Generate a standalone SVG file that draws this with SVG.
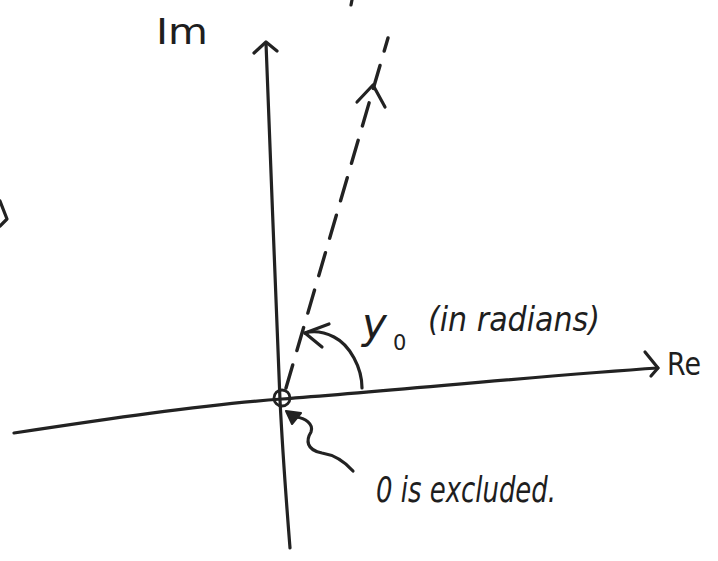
<svg xmlns="http://www.w3.org/2000/svg" width="718" height="561" viewBox="0 0 718 561">
<defs>
<style>
.ink{fill:none;stroke:#222;stroke-width:3.2;stroke-linecap:round;stroke-linejoin:round}
.dash{fill:none;stroke:#222;stroke-width:3.4;stroke-linecap:round;stroke-dasharray:24 15}
.hand{font-family:"DejaVu Sans","Liberation Sans",sans-serif;font-style:italic;fill:#1e1e1e}
.upright{font-style:normal}
</style>
</defs>
<rect width="718" height="561" fill="#fff"/>
<g id="connectors">
<g id="im-axis">
<path class="ink" d="M266,43 C270,150 276,300 280,400 C283,460 287,510 290,548"/>
<path class="ink" d="M254,53 L266,42 L277,51"/>
</g>
<g id="re-axis">
<path class="ink" d="M14,433 C100,420 200,405 282,399 C400,390 550,375 658,368"/>
<path class="ink" d="M645,352 L658,368 L651,376"/>
</g>
<g id="ray">
<path class="dash" d="M286,388 L388,38"/>
<path class="ink" d="M357,102 L373,85 L385,107"/>
</g>
<g id="angle-arc">
<path class="ink" d="M362,388 C362,368 350,345 334,337 C322,331 312,331 305,333"/>
<path class="ink" d="M329,324 L305,333 L322,347"/>
</g>
<g id="squiggle">
<path class="ink" d="M353,471 C345,462 335,455 322,453 C306,450 306,440 311,432 C314,424 305,418 296,417"/>
<path d="M286,411 L301,413 L292,424 Z" fill="#222" stroke="#222" stroke-width="2" stroke-linejoin="round"/>
</g>
<path class="ink" d="M0,201 L7,219 L0,226"/>
<path class="ink" d="M352,0 L351,5"/>
</g>
<g id="origin">
<circle cx="282" cy="398" r="8" fill="none" stroke="#222" stroke-width="2.8"/>
</g>
<g id="label-im">
<text class="hand upright" x="156" y="44" font-size="36" textLength="52" lengthAdjust="spacingAndGlyphs">Im</text>
</g>
<g id="label-re">
<text class="hand upright" x="667" y="375" font-size="32" textLength="34" lengthAdjust="spacingAndGlyphs">Re</text>
</g>
<g id="label-angle">
<text class="hand" x="362" y="338" font-size="42">y</text>
<text class="hand upright" x="393" y="350" font-size="21">0</text>
<text class="hand" x="428" y="331" font-size="33" textLength="172" lengthAdjust="spacingAndGlyphs">(in radians)</text>
</g>
<g id="label-origin">
<text class="hand" x="376" y="502" font-size="35" textLength="180" lengthAdjust="spacingAndGlyphs">0 is excluded.</text>
</g>
</svg>
